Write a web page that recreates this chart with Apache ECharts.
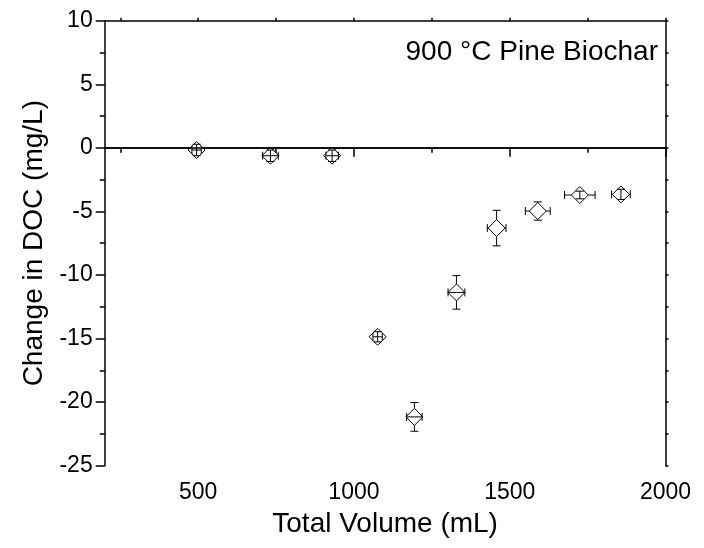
<!DOCTYPE html>
<html><head><meta charset="utf-8">
<script src="https://cdn.jsdelivr.net/npm/echarts@6/dist/echarts.min.js"></script>
<style>html,body{margin:0;padding:0;background:#fff}#c{width:704px;height:548px}</style>
</head><body><div id="c"></div>
<script>
const volume = [495, 732, 930, 1076, 1194, 1329, 1458, 1590, 1725, 1857];
const docChange = [-0.17, -0.62, -0.62, -14.86, -21.16, -11.37, -6.31, -4.97, -3.71, -3.66];
const volumeErr = [15, 25, 20, 15, 25, 27, 30, 40, 49, 30];
const docErr = [0.45, 0.45, 0.45, 0.4, 1.13, 1.32, 1.4, 0.72, 0.3, 0.4];
const xMajorTicks = [500, 1000, 1500, 2000];
const xMinorTicks = [250, 750, 1250, 1750];
const xAllTicks = [250, 500, 750, 1000, 1250, 1500, 1750, 2000];
const annotation = '900 °C Pine Biochar';

const FONT = 'Liberation Sans, Arial, sans-serif';
const HALF = 8.5;
const pts = volume.map((v, i) => [v, docChange[i]]);
const errData = volume.map((v, i) => [v, docChange[i], volumeErr[i], docErr[i]]);
const plain = v => String(v);

const chart = echarts.init(document.getElementById('c'));
const lineBlack = { color: '#000', width: 1.5 };
chart.setOption({
  animation: false,
  backgroundColor: '#fff',
  grid: { left: 104.7, top: 20.7, right: 38.5, bottom: 82.3, containLabel: false },
  xAxis: [
    { type: 'value', position: 'bottom', min: 200, max: 2000, gridIndex: 0,
      axisLine: { show: true, lineStyle: lineBlack },
      axisTick: { show: true, customValues: xMajorTicks, length: 9, inside: false, lineStyle: lineBlack },
      axisLabel: { show: true, customValues: xMajorTicks, formatter: plain, fontSize: 23, fontFamily: FONT, color: '#000', margin: 15 },
      splitLine: { show: false },
      name: 'Total Volume (mL)', nameLocation: 'middle', nameGap: 45,
      nameTextStyle: { fontSize: 28, fontFamily: FONT, color: '#000' } },
    { type: 'value', position: 'bottom', min: 200, max: 2000, gridIndex: 0,
      axisLine: { show: false },
      axisTick: { show: true, customValues: xMinorTicks, length: 5, inside: false, lineStyle: lineBlack },
      axisLabel: { show: false }, splitLine: { show: false } },
    { type: 'value', position: 'top', min: 200, max: 2000, gridIndex: 0,
      axisLine: { show: true, lineStyle: lineBlack },
      axisTick: { show: true, customValues: xAllTicks, length: 3, inside: false, lineStyle: lineBlack },
      axisLabel: { show: false }, splitLine: { show: false } }
  ],
  yAxis: [
    { type: 'value', position: 'left', min: -25, max: 10, interval: 5,
      axisLine: { show: true, lineStyle: lineBlack },
      axisTick: { show: true, length: 9, inside: false, lineStyle: lineBlack },
      minorTick: { show: true, splitNumber: 2, length: 5, lineStyle: lineBlack },
      axisLabel: { formatter: plain, fontSize: 23, fontFamily: FONT, color: '#000', margin: 12 },
      splitLine: { show: false },
      name: 'Change in DOC (mg/L)', nameLocation: 'middle', nameGap: 54,
      nameTextStyle: { fontSize: 28, fontFamily: FONT, color: '#000' } },
    { type: 'value', position: 'right', min: -25, max: 10, interval: 5,
      axisLine: { show: true, lineStyle: lineBlack },
      axisTick: { show: true, length: 3, inside: false, lineStyle: lineBlack },
      minorTick: { show: true, splitNumber: 2, length: 3, lineStyle: lineBlack },
      axisLabel: { show: false }, splitLine: { show: false } }
  ],
  graphic: [{
    type: 'text', right: 46, top: 38,
    style: { text: annotation, fontSize: 28, fontFamily: FONT, fill: '#000' }
  }],
  series: [
    { type: 'scatter', xAxisIndex: 0, yAxisIndex: 0, data: pts, symbol: 'diamond', symbolSize: 17,
      itemStyle: { color: '#fff', borderColor: '#000', borderWidth: 1, opacity: 1 }, z: 3,
      markLine: { silent: true, symbol: 'none', label: { show: false },
        lineStyle: { color: '#000', width: 1.5, type: 'solid' }, data: [{ yAxis: 0 }] } },
    { type: 'custom', xAxisIndex: 0, yAxisIndex: 0, data: errData, z: 4,
      renderItem: function (params, api) {
        const x = api.value(0), y = api.value(1), xe = api.value(2), ye = api.value(3);
        const c = api.coord([x, y]);
        const top = api.coord([x, y + ye])[1], bot = api.coord([x, y - ye])[1];
        const lft = api.coord([x - xe, y])[0], rgt = api.coord([x + xe, y])[0];
        const ls = { stroke: '#000', lineWidth: 1 };
        const cap = 4;
        const ch = [];
        const dy = c[1] - top, dx = rgt - c[0];
        const sy = dy > HALF ? HALF : 0, sx = dx > HALF ? HALF : 0;
        ch.push({ type: 'line', shape: { x1: c[0], y1: c[1] - sy, x2: c[0], y2: top }, style: ls });
        ch.push({ type: 'line', shape: { x1: c[0], y1: c[1] + sy, x2: c[0], y2: bot }, style: ls });
        ch.push({ type: 'line', shape: { x1: c[0] - cap, y1: top, x2: c[0] + cap, y2: top }, style: ls });
        ch.push({ type: 'line', shape: { x1: c[0] - cap, y1: bot, x2: c[0] + cap, y2: bot }, style: ls });
        ch.push({ type: 'line', shape: { x1: c[0] - sx, y1: c[1], x2: lft, y2: c[1] }, style: ls });
        ch.push({ type: 'line', shape: { x1: c[0] + sx, y1: c[1], x2: rgt, y2: c[1] }, style: ls });
        ch.push({ type: 'line', shape: { x1: lft, y1: c[1] - cap, x2: lft, y2: c[1] + cap }, style: ls });
        ch.push({ type: 'line', shape: { x1: rgt, y1: c[1] - cap, x2: rgt, y2: c[1] + cap }, style: ls });
        return { type: 'group', children: ch };
      } }
  ]
});
</script></body></html>
